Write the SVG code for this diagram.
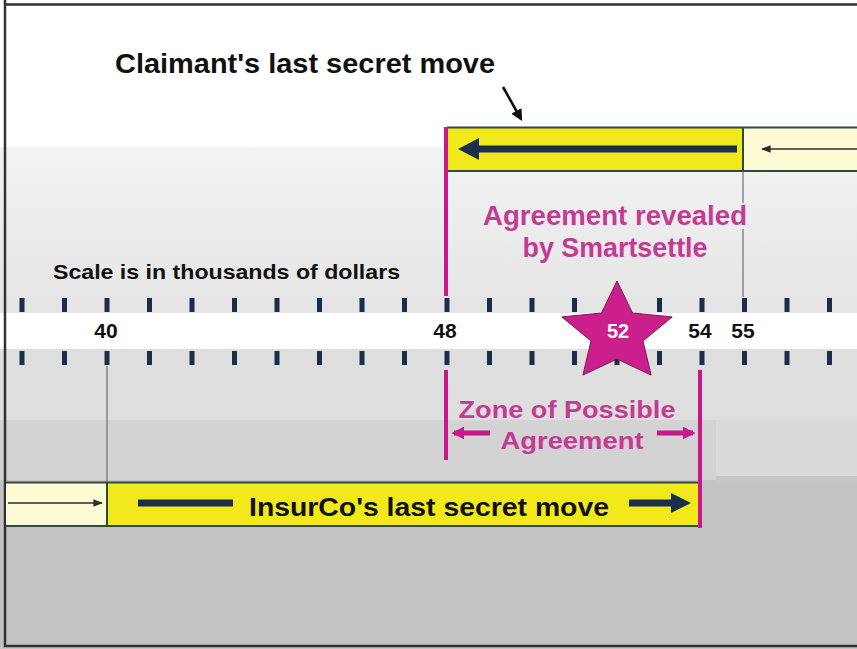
<svg xmlns="http://www.w3.org/2000/svg" width="857" height="649" viewBox="0 0 857 649">
<style>
.bk{font-family:"Liberation Sans",Arial,sans-serif;font-weight:bold;fill:#111;}
.mg{font-family:"Liberation Sans",Arial,sans-serif;font-weight:bold;fill:#c43b93;}
.num{font-family:"Liberation Sans",Arial,sans-serif;font-weight:bold;fill:#111;font-size:21px;text-anchor:middle;}
.tick{fill:#1b2d4c;}
.yel{fill:#f1e91c;}
.lyel{fill:#fdfbd6;}
.edge{stroke:#2f4a42;stroke-width:2;fill:none;}
.mline{stroke:#c8188a;stroke-width:4;}
.thin{stroke:#4a5870;stroke-width:1;}
</style>
<defs>
<linearGradient id="gTop" x1="0" y1="0" x2="0" y2="1">
<stop offset="0" stop-color="#f3f3f3"/>
<stop offset="1" stop-color="#e6e6e6"/>
</linearGradient>
<marker id="thinHead" viewBox="0 0 10 10" refX="9" refY="5" markerWidth="6" markerHeight="6" orient="auto">
<path d="M0,1 L10,5 L0,9 Z" fill="#2b2b2b"/>
</marker>
<marker id="blkHead" viewBox="0 0 10 10" refX="8" refY="5" markerWidth="4.5" markerHeight="4.5" orient="auto">
<path d="M0,0 L10,5 L0,10 Z" fill="#111"/>
</marker>
<marker id="mgHead" viewBox="0 0 10 10" refX="8" refY="5" markerWidth="2.6" markerHeight="2.6" orient="auto">
<path d="M0,0 L10,5 L0,10 Z" fill="#c8188a"/>
</marker>
</defs>

<!-- background -->
<g id="background">
<rect x="0" y="0" width="857" height="649" fill="#ffffff"/>
<rect x="0" y="147" width="857" height="151" fill="url(#gTop)"/>
<rect x="0" y="297" width="857" height="17" fill="#e5e5e5"/>
<rect x="0" y="313" width="857" height="37" fill="#ffffff"/>
<rect x="0" y="349" width="857" height="72" fill="#dedede"/>
<rect x="0" y="420" width="716" height="62" fill="#d3d3d3"/>
<rect x="716" y="420" width="141" height="56" fill="#dadada"/>
<rect x="0" y="480" width="857" height="169" fill="#c3c3c3"/>
<rect x="716" y="476" width="141" height="6" fill="#c5c5c5"/>
<path d="M5,0 V646 H857 M5,4.5 H857" stroke="#333" stroke-width="2.5" fill="none"/>
</g>

<!-- scale -->
<g id="scale">
<g id="ticks-upper">
<rect class="tick" x="19.5" y="298" width="5" height="14"/>
<rect class="tick" x="62" y="298" width="5" height="14"/>
<rect class="tick" x="104.5" y="298" width="5" height="14"/>
<rect class="tick" x="147" y="298" width="5" height="14"/>
<rect class="tick" x="189.5" y="298" width="5" height="14"/>
<rect class="tick" x="232" y="298" width="5" height="14"/>
<rect class="tick" x="274.5" y="298" width="5" height="14"/>
<rect class="tick" x="317" y="298" width="5" height="14"/>
<rect class="tick" x="359.5" y="298" width="5" height="14"/>
<rect class="tick" x="402" y="298" width="5" height="14"/>
<rect class="tick" x="444.5" y="298" width="5" height="14"/>
<rect class="tick" x="487" y="298" width="5" height="14"/>
<rect class="tick" x="529.5" y="298" width="5" height="14"/>
<rect class="tick" x="572" y="298" width="5" height="14"/>
<rect class="tick" x="614.5" y="298" width="5" height="14"/>
<rect class="tick" x="657" y="298" width="5" height="14"/>
<rect class="tick" x="699.5" y="298" width="5" height="14"/>
<rect class="tick" x="742" y="298" width="5" height="14"/>
<rect class="tick" x="784.5" y="298" width="5" height="14"/>
<rect class="tick" x="827" y="298" width="5" height="14"/>
</g>
<g id="ticks-lower">
<rect class="tick" x="19.5" y="351" width="5" height="14"/>
<rect class="tick" x="62" y="351" width="5" height="14"/>
<rect class="tick" x="104.5" y="351" width="5" height="14"/>
<rect class="tick" x="147" y="351" width="5" height="14"/>
<rect class="tick" x="189.5" y="351" width="5" height="14"/>
<rect class="tick" x="232" y="351" width="5" height="14"/>
<rect class="tick" x="274.5" y="351" width="5" height="14"/>
<rect class="tick" x="317" y="351" width="5" height="14"/>
<rect class="tick" x="359.5" y="351" width="5" height="14"/>
<rect class="tick" x="402" y="351" width="5" height="14"/>
<rect class="tick" x="444.5" y="351" width="5" height="14"/>
<rect class="tick" x="487" y="351" width="5" height="14"/>
<rect class="tick" x="529.5" y="351" width="5" height="14"/>
<rect class="tick" x="572" y="351" width="5" height="14"/>
<rect class="tick" x="614.5" y="351" width="5" height="14"/>
<rect class="tick" x="657" y="351" width="5" height="14"/>
<rect class="tick" x="699.5" y="351" width="5" height="14"/>
<rect class="tick" x="742" y="351" width="5" height="14"/>
<rect class="tick" x="784.5" y="351" width="5" height="14"/>
<rect class="tick" x="827" y="351" width="5" height="14"/>
</g>
<text class="num" x="106" y="338">40</text>
<text class="num" x="445" y="338">48</text>
<text class="num" x="700" y="338">54</text>
<text class="num" x="743" y="338">55</text>
<text id="scale-note" class="bk" x="53" y="279" font-size="21" textLength="347" lengthAdjust="spacingAndGlyphs">Scale is in thousands of dollars</text>
</g>

<!-- claimant bar -->
<g id="claimant-bar">
<rect class="yel" x="447" y="127" width="296" height="44"/>
<rect class="lyel" x="743" y="127" width="114" height="44"/>
<path class="edge" d="M447,127.5 H857 M447,171 H857 M743,127 V171"/>
<text id="claimant-label" class="bk" x="115" y="73" font-size="27" textLength="380" lengthAdjust="spacingAndGlyphs">Claimant's last secret move</text>
</g>

<!-- insurco bar -->
<g id="insurco-bar">
<rect class="lyel" x="6" y="482" width="101" height="44"/>
<rect class="yel" x="107" y="482" width="593" height="44"/>
<path class="edge" d="M6,482.5 H700 M6,526 H700 M107,482 V526"/>
<text id="insurco-label" class="bk" x="249" y="516" font-size="26" textLength="360" lengthAdjust="spacingAndGlyphs">InsurCo's last secret move</text>
</g>

<!-- agreement star -->
<g id="agreement-star">
<polygon points="617,281 632.5,313 672.2,316.9 643,341 651.1,375.1 617,359 582.9,375.1 591,341 561.8,316.9 601.5,313" fill="#cb1f8b" stroke="#7a1a55" stroke-width="1"/>
<text x="618" y="338" text-anchor="middle" font-family="Liberation Sans, Arial, sans-serif" font-weight="bold" font-size="20" fill="#ffffff">52</text>
</g>

<g id="agreement-label">
<text class="mg" x="615" y="225" font-size="27" text-anchor="middle" textLength="264" lengthAdjust="spacingAndGlyphs">Agreement revealed</text>
<text class="mg" x="615" y="257" font-size="27" text-anchor="middle" textLength="185" lengthAdjust="spacingAndGlyphs">by Smartsettle</text>
</g>

<g id="zopa-label">
<text class="mg" x="567" y="418" font-size="24" text-anchor="middle" textLength="217" lengthAdjust="spacingAndGlyphs">Zone of Possible</text>
<text class="mg" x="572" y="449" font-size="24" text-anchor="middle" textLength="143" lengthAdjust="spacingAndGlyphs">Agreement</text>
</g>

<!-- connectors -->
<g id="connectors">
<line class="mline" x1="446" y1="127" x2="446" y2="296"/>
<line class="mline" x1="446" y1="370" x2="446" y2="460"/>
<line class="mline" x1="700" y1="370" x2="700" y2="528"/>
<line class="thin" x1="743" y1="171" x2="743" y2="203"/>
<line class="thin" x1="743" y1="229" x2="743" y2="297"/>
<line class="thin" x1="107" y1="366" x2="107" y2="482"/>
<!-- claimant big arrow -->
<rect x="476" y="145.5" width="261" height="7" fill="#1a2f4d"/>
<polygon points="458,149 479,138 479,160" fill="#1a2f4d"/>
<line x1="857" y1="149" x2="762" y2="149" stroke="#2b2b2b" stroke-width="1.6" marker-end="url(#thinHead)"/>
<!-- insurco arrows -->
<line x1="8" y1="503" x2="102" y2="503" stroke="#2b2b2b" stroke-width="1.6" marker-end="url(#thinHead)"/>
<rect x="138" y="499.5" width="95" height="7" fill="#1a2f4d"/>
<rect x="629" y="499.5" width="44" height="7" fill="#1a2f4d"/>
<polygon points="691,503 671,493 671,513" fill="#1a2f4d"/>
<!-- callout arrow -->
<line x1="503" y1="87" x2="521" y2="119" stroke="#111" stroke-width="2.6" marker-end="url(#blkHead)"/>
<!-- zopa arrows -->
<line x1="490" y1="433" x2="454" y2="433" stroke="#c8188a" stroke-width="5" marker-end="url(#mgHead)"/>
<line x1="657" y1="433" x2="693" y2="433" stroke="#c8188a" stroke-width="5" marker-end="url(#mgHead)"/>
</g>
</svg>
